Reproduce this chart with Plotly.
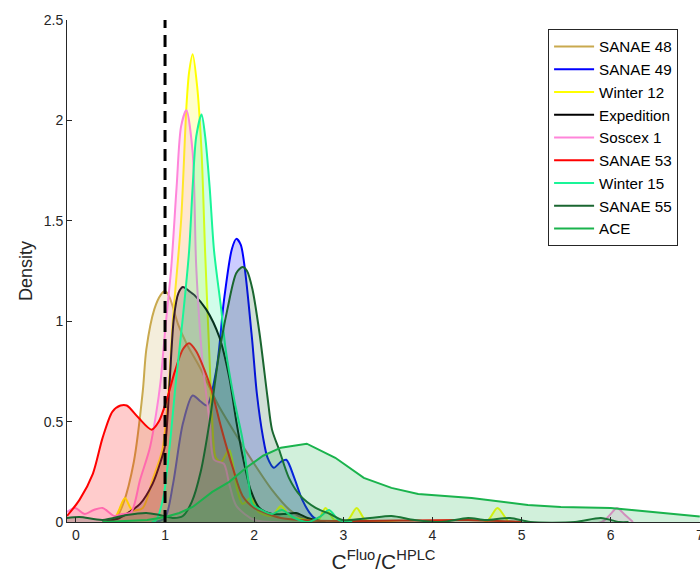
import plotly.graph_objects as go

# ---------------- data ----------------
names = ["SANAE 48", "SANAE 49", "Winter 12", "Expedition", "Soscex 1",
         "SANAE 53", "Winter 15", "SANAE 55", "ACE"]
colors = ["#C9A94E", "#0000FF", "#FFFF00", "#000000", "#FF85DA",
          "#FF0000", "#19F598", "#1A6630", "#1AB34D"]

sanae48_x = [0.35, 0.45, 0.53, 0.65, 0.75, 0.79, 0.88, 0.95, 1.0, 1.05, 1.15, 1.25, 1.39, 1.6, 1.83, 2.0, 2.2, 2.4, 2.6, 2.8]
sanae48_y = [0.0, 0.02, 0.09, 0.3, 0.65, 0.86, 1.06, 1.13, 1.15, 1.12, 0.98, 0.88, 0.77, 0.58, 0.41, 0.29, 0.16, 0.06, 0.01, 0.0]

sanae49_x = [0.9, 1.0, 1.09, 1.2, 1.31, 1.4, 1.47, 1.58, 1.66, 1.75, 1.8, 1.85, 1.97, 2.03, 2.1, 2.15, 2.22, 2.3, 2.36, 2.45, 2.54, 2.65, 2.75]
sanae49_y = [0.0, 0.02, 0.19, 0.49, 0.63, 0.6, 0.58, 0.77, 1.1, 1.36, 1.41, 1.38, 0.94, 0.64, 0.42, 0.32, 0.27, 0.3, 0.31, 0.22, 0.11, 0.03, 0.0]

winter12_x = [0.35, 0.45, 0.55, 0.63, 0.75, 0.86, 0.97, 1.03, 1.09, 1.18, 1.24, 1.27, 1.31, 1.36, 1.41, 1.45, 1.5, 1.53, 1.57, 1.63, 1.72, 1.81, 1.87, 1.96, 2.05, 2.2, 2.3, 2.4, 2.6, 2.72, 2.8, 2.9, 3.05, 3.15, 3.25, 3.5, 4.6, 4.73, 4.86, 5.0]
winter12_y = [0.0, 0.03, 0.12, 0.06, 0.07, 0.21, 0.36, 0.6, 1.02, 1.5, 2.07, 2.24, 2.33, 2.17, 1.84, 1.34, 0.8, 0.5, 0.32, 0.3, 0.36, 0.16, 0.09, 0.12, 0.05, 0.03, 0.08, 0.03, 0.01, 0.01, 0.07, 0.01, 0.01, 0.07, 0.01, 0.0, 0.0, 0.07, 0.0, 0.0]

expedition_x = [0.3, 0.49, 0.6, 0.72, 0.86, 0.95, 1.0, 1.05, 1.1, 1.15, 1.2, 1.27, 1.33, 1.46, 1.61, 1.72, 1.8, 1.87, 1.96, 2.06, 2.2, 2.35, 2.47, 2.6, 2.8]
expedition_y = [0.0, 0.02, 0.05, 0.09, 0.19, 0.3, 0.38, 0.69, 1.02, 1.14, 1.17, 1.15, 1.13, 1.06, 0.92, 0.72, 0.5, 0.33, 0.16, 0.07, 0.04, 0.04, 0.045, 0.02, 0.0]

soscex1_x = [-0.1, -0.01, 0.1, 0.2, 0.3, 0.43, 0.52, 0.62, 0.72, 0.83, 0.9, 0.95, 1.0, 1.07, 1.13, 1.18, 1.24, 1.31, 1.35, 1.42, 1.5, 1.55, 1.66, 1.72, 1.8, 2.0, 2.2, 5.9, 6.0, 6.07, 6.15, 6.25]
soscex1_y = [0.05, 0.07, 0.04, 0.06, 0.07, 0.03, 0.04, 0.05, 0.21, 0.37, 0.54, 0.7, 0.95, 1.27, 1.67, 1.97, 2.05, 1.84, 1.27, 0.8, 0.5, 0.31, 0.29, 0.19, 0.08, 0.01, 0.0, 0.0, 0.04, 0.07, 0.04, 0.0]

sanae53_x = [-0.1, 0.04, 0.19, 0.3, 0.41, 0.5, 0.57, 0.7, 0.85, 0.93, 1.02, 1.11, 1.2, 1.27, 1.35, 1.44, 1.52, 1.63, 1.76, 1.87, 2.0, 2.1, 2.3, 2.5, 3.0, 4.4, 5.0]
sanae53_y = [0.03, 0.11, 0.24, 0.42, 0.55, 0.58, 0.58, 0.52, 0.46, 0.5, 0.61, 0.75, 0.86, 0.89, 0.85, 0.76, 0.66, 0.47, 0.27, 0.13, 0.07, 0.05, 0.02, 0.01, 0.005, 0.01, 0.0]

winter15_x = [0.85, 0.9, 0.98, 1.05, 1.12, 1.2, 1.27, 1.31, 1.35, 1.41, 1.45, 1.5, 1.55, 1.63, 1.68, 1.78, 1.87, 1.94, 1.98, 2.08, 2.2, 2.31, 2.45, 2.6, 2.75, 2.84, 2.95, 3.1]
winter15_y = [0.0, 0.01, 0.12, 0.37, 0.69, 1.02, 1.35, 1.67, 1.92, 2.03, 1.92, 1.67, 1.35, 1.06, 0.86, 0.6, 0.41, 0.19, 0.09, 0.06, 0.04, 0.06, 0.02, 0.0, 0.03, 0.06, 0.01, 0.0]

sanae55_x = [-0.1, 0.04, 0.3, 0.57, 0.79, 0.94, 1.1, 1.2, 1.3, 1.4, 1.5, 1.6, 1.7, 1.8, 1.87, 1.92, 1.98, 2.06, 2.15, 2.2, 2.28, 2.39, 2.52, 2.69, 2.85, 3.0, 3.3, 3.54, 3.8, 4.1, 4.4, 4.6, 4.87, 5.1, 5.6, 5.89, 6.1, 6.2]
sanae55_y = [0.02, 0.025, 0.01, 0.035, 0.045, 0.035, 0.02, 0.03, 0.1, 0.25, 0.5, 0.82, 1.06, 1.24, 1.27, 1.25, 1.16, 0.94, 0.62, 0.46, 0.36, 0.22, 0.13, 0.07, 0.04, 0.01, 0.02, 0.03, 0.01, 0.0, 0.02, 0.01, 0.02, 0.0, 0.0, 0.02, 0.0, 0.0]

ace_x = [0.3, 0.6, 0.8, 1.0, 1.16, 1.31, 1.53, 1.72, 1.91, 2.1, 2.3, 2.59, 2.91, 3.23, 3.54, 3.84, 4.44, 5.07, 5.44, 6.0, 6.56, 7.0]
ace_y = [0.0, 0.005, 0.01, 0.025, 0.045, 0.075, 0.15, 0.2, 0.27, 0.33, 0.37, 0.39, 0.32, 0.22, 0.17, 0.14, 0.12, 0.085, 0.075, 0.07, 0.045, 0.027]

series_x = [sanae48_x, sanae49_x, winter12_x, expedition_x, soscex1_x,
            sanae53_x, winter15_x, sanae55_x, ace_x]
series_y = [sanae48_y, sanae49_y, winter12_y, expedition_y, soscex1_y,
            sanae53_y, winter15_y, sanae55_y, ace_y]

threshold_x = 1.0
x_ticks = [0, 1, 2, 3, 4, 5, 6, 7]
y_ticks = [0, 0.5, 1, 1.5, 2, 2.5]


def rgba(hexcol, a):
    h = hexcol.lstrip("#")
    r, g, b = int(h[0:2], 16), int(h[2:4], 16), int(h[4:6], 16)
    return f"rgba({r},{g},{b},{a})"


fig = go.Figure()
for name, col, xs, ys in zip(names, colors, series_x, series_y):
    shape = "linear" if name == "ACE" else "spline"
    fig.add_trace(go.Scatter(x=xs, y=ys, mode="lines", fill="tozeroy",
                             fillcolor=rgba(col, 0.2),
                             line=dict(width=0, shape=shape, smoothing=0.8),
                             showlegend=False, hoverinfo="skip"))
    fig.add_trace(go.Scatter(x=xs, y=ys, mode="lines", name=name,
                             line=dict(color=col, width=2, shape=shape, smoothing=0.8)))

fig.add_shape(type="line", xref="x", yref="y", x0=threshold_x, x1=threshold_x,
              y0=0, y1=2.5, line=dict(color="black", width=3, dash="12px,7px"),
              layer="above")

axis_col = "#262626"
fig.update_layout(
    width=700, height=578,
    margin=dict(l=67, r=0, t=20, b=56, autoexpand=False),
    paper_bgcolor="white", plot_bgcolor="white",
    font=dict(family="Liberation Sans, Arial, sans-serif", color=axis_col, size=14),
    xaxis=dict(range=[-0.1, 7.002], tickvals=x_ticks, ticks="inside", ticklen=5,
               showline=True, linecolor=axis_col, linewidth=1, tickcolor=axis_col,
               showgrid=False, zeroline=False, mirror=False, automargin=False,
               ticklabeloverflow="allow",
               tickfont=dict(size=14),
               title=dict(text="C<sup>Fluo</sup>/C<sup>HPLC</sup>",
                          font=dict(size=21), standoff=12)),
    yaxis=dict(range=[0, 2.5], tickvals=y_ticks, ticks="inside", ticklen=5,
               showline=True, linecolor=axis_col, linewidth=1, tickcolor=axis_col,
               showgrid=False, zeroline=False, automargin=False,
               tickfont=dict(size=14),
               title=dict(text="Density", font=dict(size=18), standoff=6)),
    legend=dict(x=0.76, y=0.982, xanchor="left", yanchor="top",
                bgcolor="white", bordercolor=axis_col, borderwidth=1,
                font=dict(size=15.2, color="black"), tracegroupgap=0,
                itemwidth=40),
)

fig.write_html("out.html", config={"displayModeBar": False},
               post_script="document.body.style.margin='0px';")
